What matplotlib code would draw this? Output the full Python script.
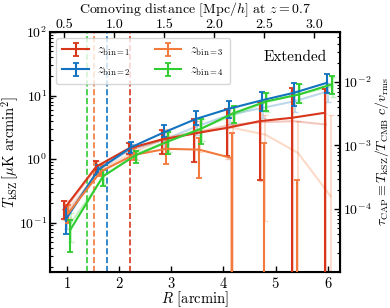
"""kSZ stacked profiles per redshift bin, Extended sample."""
import numpy as np
import matplotlib

matplotlib.use("Agg")
import matplotlib.pyplot as plt

plt.rcParams.update({
    "font.family": "serif",
    "font.serif": ["cmr10"],
    "mathtext.fontset": "cm",
    "axes.formatter.use_mathtext": True,
    "font.size": 10.5,
    "xtick.labelsize": 10.5,
    "ytick.labelsize": 10,
    "axes.unicode_minus": False,
})

R = np.array([1.0, 1.625, 2.25, 2.875, 3.5, 4.125, 4.75, 5.375, 6.0])
ARCMIN_TO_MPC = 0.523   # comoving Mpc/h per arcmin at z = 0.7
TAU_FACTOR = 10 ** -3.215   # T_kSZ [muK arcmin^2] -> tau_CAP

labels = [r"$z_{\rm bin=1}$", r"$z_{\rm bin=2}$", r"$z_{\rm bin=3}$", r"$z_{\rm bin=4}$"]
colors = ["#d8361a", "#1273c0", "#f27a3c", "#30cc30"]
offsets = [-0.06, -0.02, 0.03, 0.07]
r_cut = [2.21, 1.78, 1.52, 1.38]

# main profiles, with upper / lower error bar ends
t_red = [0.16, 0.76, 1.47, 2.03, 2.52, 3.1, 3.95, 4.47, 5.36]
t_red_hi = [0.216, 0.92, 1.8, 2.85, 4.2, 6.2, 7.8, 13.3, 12.5]
t_red_lo = [0.114, 0.57, 1.22, 1.22, 0.89, 1.1, 0.475, -1.0, -2.0]

t_blue = [0.111, 0.68, 1.53, 2.62, 4.3, 6.2, 8.4, 11.1, 15.9]
t_blue_hi = [0.17, 0.80, 1.84, 3.5, 5.7, 8.2, 11.3, 15.5, 22.0]
t_blue_lo = [0.067, 0.57, 1.25, 2.24, 3.5, 4.5, 5.7, 6.8, 11.1]

t_orange = [0.14, 0.64, 1.16, 1.45, 1.41, 1.04, -0.5, -1.0, np.nan]
t_orange_hi = [0.19, 0.82, 1.5, 2.08, 2.16, 2.6, 1.76, 0.475, np.nan]
t_orange_lo = [0.10, 0.54, 0.98, 0.85, 0.5, -1.0, -2.0, -3.0, np.nan]

t_green = [0.077, 0.535, 1.15, 1.9, 3.0, 5.3, 8.1, 10.4, 15.0]
t_green_hi = [0.111, 0.68, 1.33, 2.65, 4.2, 6.8, 11.1, 15.0, 20.3]
t_green_lo = [0.034, 0.37, 0.87, 1.2, 1.7, 3.7, 5.7, 7.7, 10.4]

# faded comparison profiles
f_red = [0.16, 0.75, 1.4, 2.0, 2.6, 3.4, 3.8, 3.95, 3.5]
f_red_hi = [0.22, 0.92, 1.75, 2.8, 4.0, 6.0, 7.5, 12.0, 11.5]
f_red_lo = [0.11, 0.57, 1.15, 1.2, 0.9, 1.0, 0.45, -1.0, -2.0]

f_blue = [0.13, 0.70, 1.45, 2.03, 3.3, 5.0, 6.4, 8.2, 11.7]
f_blue_hi = [0.19, 0.82, 1.75, 2.7, 4.4, 6.6, 8.8, 11.5, 16.0]
f_blue_lo = [0.08, 0.58, 1.18, 1.5, 2.4, 3.6, 4.5, 5.5, 8.0]

f_orange = [0.17, 0.70, 1.3, 2.2, 2.75, 3.1, 2.43, 1.25, 0.26]
f_orange_hi = [0.23, 0.86, 1.65, 3.0, 4.0, 5.5, 5.0, 4.0, 5.0]
f_orange_lo = [0.12, 0.55, 1.0, 1.4, 1.3, -1.0, 0.105, -1.0, -2.0]

f_green = [0.10, 0.55, 1.2, 2.0, 3.1, 5.0, 8.0, 10.5, 14.0]
f_green_hi = [0.14, 0.70, 1.4, 2.7, 4.3, 6.6, 11.0, 15.0, 19.5]
f_green_lo = [0.05, 0.40, 0.95, 1.3, 1.9, 3.5, 5.5, 7.5, 9.5]

main = [(t_red, t_red_hi, t_red_lo), (t_blue, t_blue_hi, t_blue_lo),
        (t_orange, t_orange_hi, t_orange_lo), (t_green, t_green_hi, t_green_lo)]
faded = [(f_red, f_red_hi, f_red_lo), (f_blue, f_blue_hi, f_blue_lo),
         (f_orange, f_orange_hi, f_orange_lo), (f_green, f_green_hi, f_green_lo)]


def yerr(val, hi, lo):
    val, hi, lo = map(np.asarray, (val, hi, lo))
    return np.vstack([val - lo, hi - val])


fig = plt.figure(figsize=(3.9, 3.08), dpi=100)
ax = fig.add_axes([0.128, 0.117, 0.744, 0.779])

handles = []
for i in range(4):
    v, hi, lo = faded[i]
    ax.errorbar(R + offsets[i] + 0.02, v, yerr=yerr(v, hi, lo), color=colors[i],
                alpha=0.28, lw=1.5, elinewidth=1.3, capsize=2.5, zorder=1)
for i in range(4):
    v, hi, lo = main[i]
    h = ax.errorbar(R + offsets[i], v, yerr=yerr(v, hi, lo), color=colors[i],
                    lw=1.5, elinewidth=1.5, capsize=2.5, capthick=1.3,
                    label=labels[i], zorder=3)
    handles.append(h)
    ax.axvline(r_cut[i], color=colors[i], ls="--", lw=1.2, zorder=2)

ax.set_yscale("log")
ax.set_xlim(0.68, 6.23)
ymin, ymax = 0.0167, 100
ax.set_ylim(ymin, ymax)
ax.set_xticks([1, 2, 3, 4, 5, 6])
ax.tick_params(which="both", direction="in")
ax.tick_params(which="major", length=4, width=1, pad=3)
ax.tick_params(axis="y", which="major", pad=2)
ax.tick_params(which="minor", length=2, width=0.8)
for s in ax.spines.values():
    s.set_linewidth(1.5)
ax.set_xlabel(r"$R$ [arcmin]", labelpad=-1)
ax.set_ylabel(r"$T_{\rm kSZ}\,[\mu{\rm K\ arcmin}^2]$", labelpad=-1.5)

leg = ax.legend(handles=handles, ncol=2, loc="upper left", fontsize=9,
                handlelength=2.1, handletextpad=0.7, columnspacing=1.9,
                borderpad=0.5, labelspacing=0.55, framealpha=0.8)
ax.text(0.955, 0.925, "Extended", transform=ax.transAxes, ha="right", va="top",
        fontsize=11)

top = ax.secondary_xaxis("top", functions=(lambda r: r * ARCMIN_TO_MPC,
                                           lambda d: d / ARCMIN_TO_MPC))
top.set_xticks([0.5, 1.0, 1.5, 2.0, 2.5, 3.0])
top.set_xticklabels(["0.5", "1.0", "1.5", "2.0", "2.5", "3.0"])
top.tick_params(direction="in", length=4, width=1, pad=1, labelsize=10)
top.set_xlabel(r"Comoving distance [Mpc/$h$] at $z=0.7$", labelpad=4,
               fontsize=10)

rax = ax.twinx()
rax.set_yscale("log")
rax.set_ylim(ymin * TAU_FACTOR, ymax * TAU_FACTOR)
rax.tick_params(which="both", direction="in")
rax.tick_params(which="major", length=4, width=1, pad=2)
rax.tick_params(which="minor", length=2, width=0.8)
rax.set_ylabel(r"$\tau_{\rm CAP} \equiv T_{\rm kSZ}/T_{\rm CMB}\ c/v_{\rm rms}$",
               labelpad=1, fontsize=10)

fig.savefig("out.png", dpi=100)
